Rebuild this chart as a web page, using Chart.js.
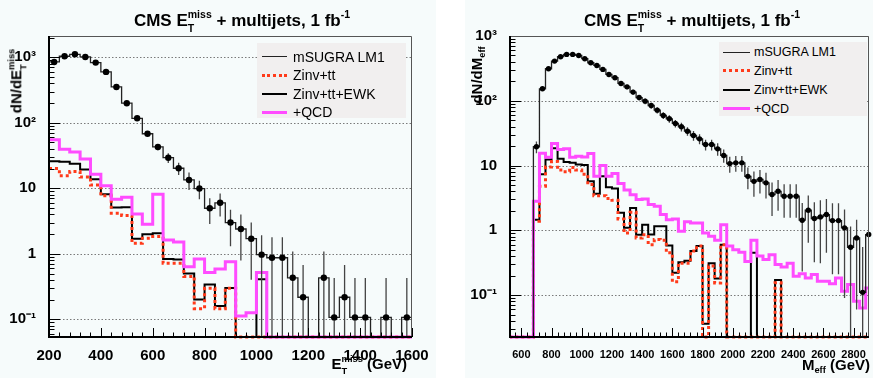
<!DOCTYPE html>
<html><head><meta charset="utf-8">
<script src="https://cdn.jsdelivr.net/npm/chart.js@4.4.1/dist/chart.umd.min.js"></script>
<style>
html,body{margin:0;padding:0;background:#fff;width:873px;height:378px;overflow:hidden;font-family:"Liberation Sans",Arial,Helvetica,sans-serif;color:#000;}
.panel{position:absolute;top:0;height:378px;background:#f6fbfb;}
canvas{position:absolute;top:0;}
.t{position:absolute;white-space:nowrap;font-weight:bold;line-height:1;}
.es{display:inline-block;position:relative;font-size:0.62em;}
.es .up{position:relative;top:-0.75em;}
.es .dn{position:absolute;left:0;top:0.55em;}
.sup{font-size:0.62em;position:relative;top:-0.75em;}
.sub{font-size:0.62em;position:relative;top:0.35em;}
.leg{position:absolute;background:#f1efef;}
.row{position:absolute;left:0;right:0;height:0;}
.row .smp{position:absolute;top:0;height:0;}
.row .txt{position:absolute;top:0;transform:translateY(-50%);white-space:nowrap;line-height:1;}
.rot{position:absolute;white-space:nowrap;font-weight:bold;line-height:1;transform:translate(-50%,-50%) rotate(-90deg);}
</style></head><body>
<div class="panel" style="left:0;width:436px"></div>
<div class="panel" style="left:465px;width:408px"></div>
<canvas id="c1" width="436" height="378" style="left:0"></canvas>
<canvas id="c2" width="437" height="378" style="left:436px"></canvas>

<div class="t" style="left:242px;top:12px;font-size:17px;transform:translateX(-50%)">CMS E<span class="es"><span class="up">miss</span><span class="dn">T</span></span> + multijets, 1 fb<span class="sup">-1</span></div>
<div class="t" style="left:692px;top:12px;font-size:17px;transform:translateX(-50%)">CMS E<span class="es"><span class="up">miss</span><span class="dn">T</span></span> + multijets, 1 fb<span class="sup">-1</span></div>

<div class="rot" style="left:16px;top:81px;font-size:15px">dN/dE<span class="es"><span class="up">miss</span><span class="dn">T</span></span></div>
<div class="rot" style="left:477px;top:75px;font-size:15px">dN/dM<span class="sub">eff</span></div>

<div class="t" style="right:466px;top:356px;font-size:15px">E<span class="es"><span class="up">miss</span><span class="dn">T</span></span> (GeV)</div>
<div class="t" style="right:3px;top:357px;font-size:15px">M<span class="sub">eff</span> (GeV)</div>

<div class="leg" style="left:257px;top:43px;width:149px;height:75px;font-size:14px">
  <div class="row" style="top:13.5px"><div class="smp" style="left:5px;width:25px;border-top:1px solid #222;margin-top:-0.5px"></div><div class="txt" style="left:36px">mSUGRA LM1</div></div>
  <div class="row" style="top:32px"><div class="smp" style="left:5px;width:25px;border-top:3px dotted #ff3a1a;margin-top:-1.5px"></div><div class="txt" style="left:36px">Zinv+tt</div></div>
  <div class="row" style="top:51px"><div class="smp" style="left:5px;width:25px;border-top:2px solid #000;margin-top:-1px"></div><div class="txt" style="left:36px">Zinv+tt+EWK</div></div>
  <div class="row" style="top:69px"><div class="smp" style="left:5px;width:25px;border-top:3px solid #ff4cff;margin-top:-1.5px"></div><div class="txt" style="left:36px">+QCD</div></div>
</div>
<div class="leg" style="left:719px;top:42px;width:148px;height:74px;font-size:12.5px">
  <div class="row" style="top:10px"><div class="smp" style="left:4px;width:27px;border-top:1px solid #222;margin-top:-0.5px"></div><div class="txt" style="left:35px">mSUGRA LM1</div></div>
  <div class="row" style="top:28.5px"><div class="smp" style="left:4px;width:27px;border-top:3px dotted #ff3a1a;margin-top:-1.5px"></div><div class="txt" style="left:35px">Zinv+tt</div></div>
  <div class="row" style="top:47.5px"><div class="smp" style="left:4px;width:27px;border-top:2px solid #000;margin-top:-1px"></div><div class="txt" style="left:35px">Zinv+tt+EWK</div></div>
  <div class="row" style="top:66.5px"><div class="smp" style="left:4px;width:27px;border-top:3px solid #ff4cff;margin-top:-1.5px"></div><div class="txt" style="left:35px">+QCD</div></div>
</div>

<script>
// ---------------- data: left panel (MET) ----------------
const MET_BIN_LOW = [200,240,280,320,360,400,440,480,520,560,600,640,680,720,760,800,840,880,920,960,1000,1040,1080,1120,1160,1200,1240,1280,1320,1360,1400,1440,1480,1520,1560];
const MET_LM1 = [848,1035,1110,1010,828,597,352,199,117,68,42.7,29.3,20.2,13.4,9.9,4.96,6.0,3.0,2.39,1.70,0.97,0.87,0.87,0.43,0.217,0,0.43,0.107,0.217,0.107,0.107,0,0.107,0,0.107];
const MET_LM1_ERR = [14,15,16,15,14,12,9,7,5.5,4.5,4.8,5,4.3,4,3.1,2.1,2.3,1.7,1.6,1.3,0.95,0.92,0.92,0.65,0.46,0,0.65,0.32,0.46,0.32,0.32,0,0.32,0,0.32];
const MET_ZTT = [20,15.5,18,14.8,11.2,7.7,4.15,3.85,1.45,1.73,1.83,0.72,0.72,0.45,0.145,0.297,0.145,0.297,0,0,0,0,0,0,0,0,0,0,0,0,0,0,0,0,0];
const MET_EWK = [25.8,25.5,23.6,19.4,13.7,8.1,5.1,5.15,1.7,1.98,2.05,0.83,0.82,0.50,0.20,0.34,0.16,0.30,0,0,0.41,0,0,0,0,0,0,0,0,0,0,0,0,0,0];
const MET_QCD = [55,39.4,35.8,28,16.4,10.9,6.8,7.3,4.05,2.82,8.1,1.63,1.51,0.635,0.83,0.52,0.586,0.757,0.112,0.126,0.52,0,0,0,0,0,0,0,0,0,0,0,0,0,0];
const MET_XTICKS = [200,400,600,800,1000,1200,1400,1600];
const MET_YTICKS = [0.1,1,10,100,1000];

// ---------------- data: right panel (Meff) ----------------
const MEFF_BIN_LOW = [520,560,600,640,680,720,760,800,840,880,920,960,1000,1040,1080,1120,1160,1200,1240,1280,1320,1360,1400,1440,1480,1520,1560,1600,1640,1680,1720,1760,1800,1840,1880,1920,1960,2000,2040,2080,2120,2160,2200,2240,2280,2320,2360,2400,2440,2480,2520,2560,2600,2640,2680,2720,2760,2800,2840,2880];
const MEFF_LM1 = [0,0,0,0,19.5,153,312,410,479,520,520,501,446,386,351,305,255,227,185,164,136,112,98.6,84.5,71.6,59.3,52.7,44.6,39.6,33.9,29.1,25.8,21.1,21.1,18.1,14.3,10.7,11.0,11.0,6.8,5.7,6.1,5.4,3.56,4.0,3.36,3.36,3.36,1.43,2.04,1.52,1.61,1.75,1.41,1.41,1.09,0.546,0.76,0.11,0.86];
const MEFF_LM1_ERR = [0,0,0,0,4,12,18,20,22,23,23,22,21,20,19,17,16,15,14,13,12,11,10,9,8,7,7,6,6,5,5,4.5,4,4,4,3.3,3,3,3,2.5,2.4,2.4,2.3,1.9,2,1.8,1.8,1.8,1.2,1.4,1.2,1.3,1.3,1.2,1.2,1.0,0.6,0.7,0.44,0.75];
const MEFF_ZTT = [0,0,0,0,1.38,4.8,9.5,11.5,8.5,8.0,9.3,8.5,7.3,5.1,3.4,3.4,3.1,2.9,1.5,0.91,1.9,0.76,0.85,0.6,0.72,0.7,0.45,0.16,0.31,0.31,0.48,0.57,0,0.28,0.154,0.6,0,0,0,0,0,0,0,0,0.155,0,0,0,0,0,0,0,0,0,0,0,0,0,0,0];
const MEFF_EWK = [0,0,0,0,1.45,7.3,12.4,18.5,12.7,11.3,11.0,10.4,10.2,5.7,3.65,6.8,4.6,4.4,1.86,1.09,2.2,0.85,1.22,0.86,1.15,1.15,0.58,0.22,0.32,0.34,0.48,0.57,0.036,0.31,0.18,0.6,0,0,0,0,0.45,0,0,0,0.17,0,0,0,0,0,0,0,0,0,0,0,0,0,0,0];
const MEFF_QCD = [0,0,0,0,2.8,15.5,13.4,21.9,17.7,18.1,13.4,13.9,13.5,15.3,6.8,10,6.8,7.5,5.3,4.2,3.55,2.98,3.05,2.5,2.35,1.75,1.45,1.5,0.97,1.35,1.3,1.3,0.91,0.81,0.70,1.22,0.57,0.50,0.457,0.33,0.70,0.40,0.353,0.42,0.295,0.27,0.31,0.195,0.214,0.184,0.207,0.163,0.163,0.15,0.184,0.114,0.145,0.08,0.063,0.129];
const MEFF_XTICKS = [600,800,1000,1200,1400,1600,1800,2000,2200,2400,2600,2800];
const MEFF_YTICKS = [0.1,1,10,100,1000];

// ---------------- helpers ----------------
function binHigh(lows, i) { return i + 1 < lows.length ? lows[i + 1] : lows[i] + (lows[i] - lows[i - 1]); }
function stepPoints(lows, vals, ymin) {
  const pts = lows.map((x, i) => ({x: x, y: vals[i] > 0 ? vals[i] : ymin}));
  pts.push({x: binHigh(lows, lows.length - 1), y: pts[pts.length - 1].y});
  return pts;
}
function markerPoints(lows, vals) {
  const pts = [];
  lows.forEach((x, i) => { if (vals[i] > 0) pts.push({x: (x + binHigh(lows, i)) / 2, y: vals[i]}); });
  return pts;
}
function errorPoints(lows, vals, errs, ymin) {
  const pts = [];
  lows.forEach((x, i) => {
    if (vals[i] > 0 && errs[i] > 0) {
      const c = (x + binHigh(lows, i)) / 2;
      const lo = vals[i] - errs[i];
      pts.push({x: c, y: lo > 0 ? lo : ymin * 0.3});
      pts.push({x: c, y: vals[i] + errs[i]});
      pts.push({x: c, y: null});
    }
  });
  return pts;
}
const SUP = {'-1': '10\u207B\u00B9', '0': '1', '1': '10', '2': '10\u00B2', '3': '10\u00B3'};
function yLabel(v) { const e = Math.round(Math.log10(v)); return SUP[String(e)] || String(v); }

const frameTicks = {
  id: 'frameTicks',
  beforeDatasetsDraw(chart, args, o) {
    const {ctx, chartArea: a, scales: {x, y}} = chart;
    ctx.save();
    ctx.strokeStyle = '#7a7a7a'; ctx.lineWidth = 1; ctx.setLineDash([1.5, 2]);
    o.grid.forEach(v => {
      const py = Math.round(y.getPixelForValue(v)) + 0.5;
      ctx.beginPath(); ctx.moveTo(a.left, py); ctx.lineTo(a.right, py); ctx.stroke();
    });
    ctx.restore();
  },
  afterDatasetsDraw(chart, args, o) {
    const {ctx, chartArea: a, scales: {x, y}} = chart;
    ctx.save();
    ctx.strokeStyle = '#000'; ctx.lineWidth = 1;
    for (let e = -3; e <= 3; e++) {
      for (let m = 1; m <= 9; m++) {
        const v = m * Math.pow(10, e);
        if (v < y.min || v > y.max) continue;
        const py = Math.round(y.getPixelForValue(v)) + 0.5;
        const len = m === 1 ? 11 : 5.5;
        ctx.beginPath(); ctx.moveTo(a.left, py); ctx.lineTo(a.left + len, py); ctx.stroke();
      }
    }
    for (let v = Math.ceil(x.min / o.minorStep) * o.minorStep; v <= x.max; v += o.minorStep) {
      const px = Math.round(x.getPixelForValue(v)) + 0.5;
      const len = o.xMajor.includes(v) ? 9 : 4.5;
      ctx.beginPath(); ctx.moveTo(px, a.bottom); ctx.lineTo(px, a.bottom - len); ctx.stroke();
    }
    ctx.strokeStyle = '#555'; ctx.lineWidth = 1;
    ctx.beginPath(); ctx.moveTo(a.left, a.top + 0.5); ctx.lineTo(a.right - 0.5, a.top + 0.5); ctx.lineTo(a.right - 0.5, a.bottom); ctx.stroke();
    ctx.strokeStyle = '#000'; ctx.lineWidth = 2;
    ctx.beginPath(); ctx.moveTo(a.left, a.top); ctx.lineTo(a.left, a.bottom); ctx.lineTo(a.right, a.bottom); ctx.stroke();
    ctx.restore();
  }
};

function build(canvasId, p) {
  const ymin = p.ymin;
  const stepClip = {left: 0, top: 0, right: 0, bottom: 3};
  const datasets = [
    {data: stepPoints(p.lows, p.ewk, ymin), borderColor: '#000', borderWidth: 2, order: 5, clip: stepClip},
    {data: stepPoints(p.lows, p.ztt, ymin), borderColor: '#ff3a1a', borderWidth: 3, borderDash: [3, 3], order: 4, clip: stepClip},
    {data: stepPoints(p.lows, p.qcd, ymin), borderColor: '#ff4cff', borderWidth: 3, order: 3, clip: stepClip},
    {data: stepPoints(p.lows, p.lm1, ymin), borderColor: '#222', borderWidth: 1.3, order: 2, clip: stepClip},
    {data: errorPoints(p.lows, p.lm1, p.err, ymin), borderColor: '#444', borderWidth: 1.3, stepped: false, order: 1, spanGaps: false},
    {data: markerPoints(p.lows, p.lm1), showLine: false, pointRadius: p.markR, pointBackgroundColor: '#000', pointBorderColor: '#000', pointBorderWidth: 0, order: 0, clip: {left: 4, top: 4, right: 4, bottom: 0}}
  ];
  datasets.forEach((d, i) => {
    d.type = 'line'; d.fill = false; d.tension = 0;
    if (i < 4) { d.stepped = 'before'; d.pointRadius = 0; d.borderJoinStyle = 'miter'; d.borderCapStyle = 'butt'; }
    if (i === 4) { d.pointRadius = 0; }
  });
  return new Chart(document.getElementById(canvasId), {
    type: 'line',
    data: {datasets},
    options: {
      responsive: false, animation: false, devicePixelRatio: 1,
      layout: {padding: {left: 0, top: 36, right: p.padRight, bottom: 0}},
      plugins: {legend: {display: false}, tooltip: {enabled: false}, frameTicks: {grid: p.yticks, xMajor: p.xticks, minorStep: 40}},
      scales: {
        x: {
          type: 'linear', min: p.xmin, max: p.xmax,
          afterBuildTicks: s => { s.ticks = p.xticks.map(v => ({value: v})); },
          afterFit: s => { s.height = 41; },
          grid: {display: false}, border: {display: false},
          ticks: {autoSkip: false, maxRotation: 0, padding: p.xPad, color: '#000', font: {family: '"Liberation Sans", Arial, sans-serif', weight: 'bold', size: p.xFont}, callback: v => String(v)}
        },
        y: {
          type: 'logarithmic', min: p.ymin, max: p.ymax,
          afterBuildTicks: s => { s.ticks = p.yticks.map(v => ({value: v})); },
          afterFit: s => { s.width = p.yWidth; },
          grid: {display: false}, border: {display: false},
          ticks: {autoSkip: false, padding: 5, color: '#000', font: {family: '"Liberation Sans", Arial, sans-serif', weight: 'bold', size: 15}, callback: v => yLabel(v)}
        }
      }
    },
    plugins: [frameTicks]
  });
}

build('c1', {lows: MET_BIN_LOW, lm1: MET_LM1, err: MET_LM1_ERR, ztt: MET_ZTT, ewk: MET_EWK, qcd: MET_QCD,
  xticks: MET_XTICKS, yticks: MET_YTICKS, xmin: 200, xmax: 1600, ymin: 0.0537, ymax: 2110, yWidth: 49, padRight: 24, xFont: 15, xPad: 2, markR: 3.2});
build('c2', {lows: MEFF_BIN_LOW, lm1: MEFF_LM1, err: MEFF_LM1_ERR, ztt: MEFF_ZTT, ewk: MEFF_EWK, qcd: MEFF_QCD,
  xticks: MEFF_XTICKS, yticks: MEFF_YTICKS, xmin: 525, xmax: 2902, ymin: 0.0225, ymax: 1000, yWidth: 74, padRight: 1, xFont: 11, xPad: 3, markR: 2.7});
</script>
</body></html>
